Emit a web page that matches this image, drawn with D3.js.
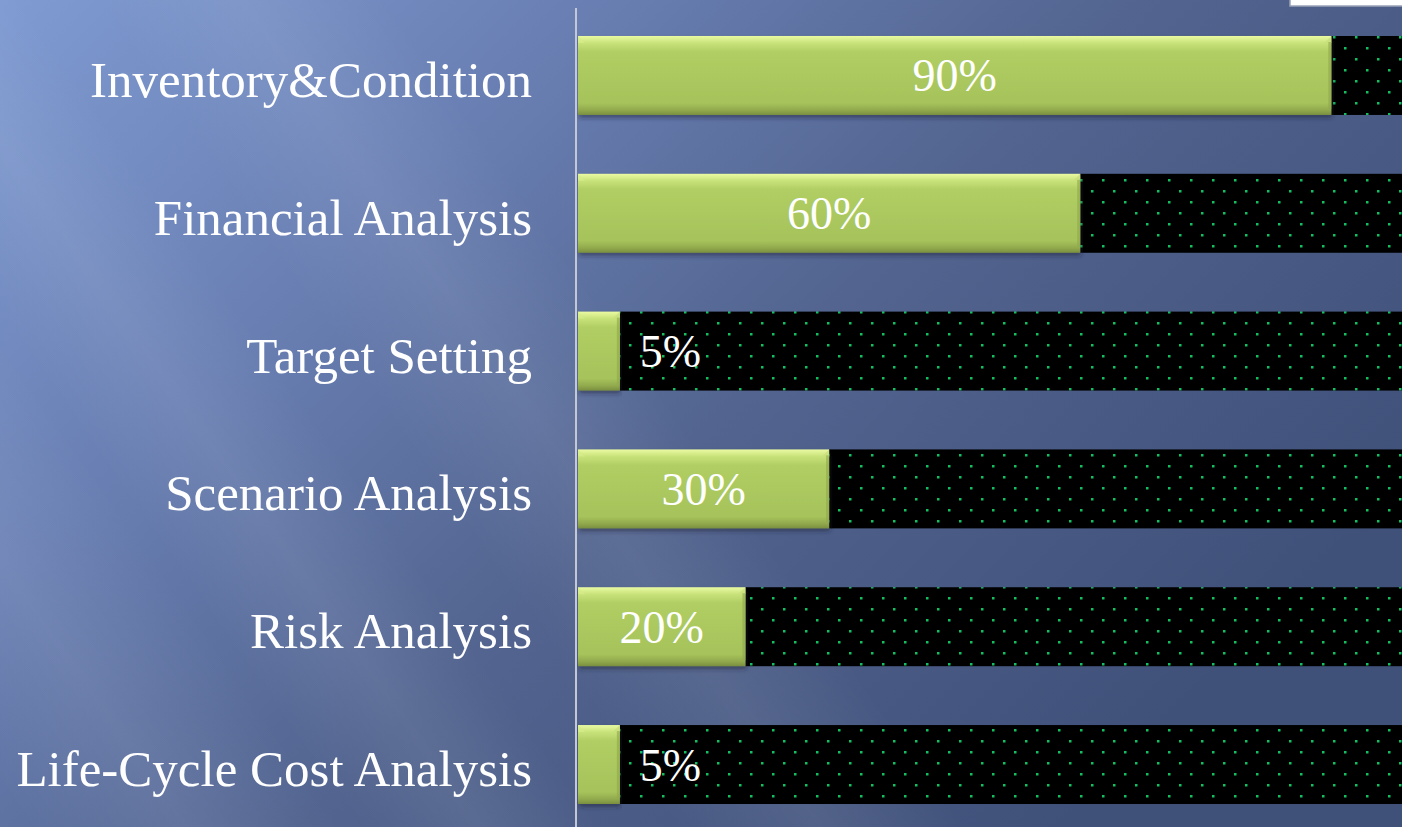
<!DOCTYPE html>
<html>
<head>
<meta charset="utf-8">
<script src="https://cdn.jsdelivr.net/npm/d3@7"></script>
<style>
  html, body { margin: 0; padding: 0; overflow: hidden; background: #4d5f8c; }
  svg { display: block; }
</style>
</head>
<body>
<script>
// chart data
var categories = ["Inventory&Condition", "Financial Analysis", "Target Setting",
                  "Scenario Analysis", "Risk Analysis", "Life-Cycle Cost Analysis"];
var values = [90, 60, 5, 30, 20, 5];
var valueLabels = ["90%", "60%", "5%", "30%", "20%", "5%"];

var width = 1402, height = 827;
var font = "'Liberation Serif', 'DejaVu Serif', serif";

var svg = d3.select('body').append('svg')
    .attr('width', width)
    .attr('height', height);

var defs = svg.append('defs');

// slide background
var bg = defs.append('linearGradient').attr('id', 'bg')
    .attr('x1', '0').attr('y1', '0').attr('x2', '1').attr('y2', '0.6');
bg.append('stop').attr('offset', '0').attr('stop-color', '#7f9bd2');
bg.append('stop').attr('offset', '0.3').attr('stop-color', '#6a80b4');
bg.append('stop').attr('offset', '0.6').attr('stop-color', '#52648f');
bg.append('stop').attr('offset', '1').attr('stop-color', '#3f5079');

var streak = defs.append('linearGradient').attr('id', 'streak')
    .attr('x1', '0').attr('y1', '0').attr('x2', '1').attr('y2', '0');
streak.append('stop').attr('offset', '0').attr('stop-color', '#ffffff').attr('stop-opacity', 0);
streak.append('stop').attr('offset', '0.5').attr('stop-color', '#ffffff').attr('stop-opacity', 0.07);
streak.append('stop').attr('offset', '1').attr('stop-color', '#ffffff').attr('stop-opacity', 0);

// green bar gradient
var barG = defs.append('linearGradient').attr('id', 'barG')
    .attr('x1', '0').attr('y1', '0').attr('x2', '0').attr('y2', '1');
barG.append('stop').attr('offset', '0').attr('stop-color', '#eafaa2');
barG.append('stop').attr('offset', '0.09').attr('stop-color', '#c8e27a');
barG.append('stop').attr('offset', '0.2').attr('stop-color', '#b0ce63');
barG.append('stop').attr('offset', '0.85').attr('stop-color', '#a6c35b');
barG.append('stop').attr('offset', '0.94').attr('stop-color', '#91a94d');
barG.append('stop').attr('offset', '1').attr('stop-color', '#7a8f3f');

// dotted fill for the remainder
var pat = defs.append('pattern').attr('id', 'dots')
    .attr('patternUnits', 'userSpaceOnUse')
    .attr('width', 22).attr('height', 22)
    .attr('x', 2).attr('y', 3);
pat.append('rect').attr('width', 22).attr('height', 22).attr('fill', '#000');
pat.append('rect').attr('x', 0).attr('y', 0).attr('width', 2.5).attr('height', 2.5).attr('fill', '#12c060');
pat.append('rect').attr('x', 11).attr('y', 11).attr('width', 2.5).attr('height', 2.5).attr('fill', '#12c060');

var shadow = defs.append('filter').attr('id', 'shadow')
    .attr('x', '-5%').attr('y', '-10%').attr('width', '110%').attr('height', '130%');
shadow.append('feDropShadow').attr('dx', 1).attr('dy', 3).attr('stdDeviation', 2)
    .attr('flood-color', '#1a2238').attr('flood-opacity', 0.5);

svg.append('rect').attr('width', width).attr('height', height).attr('fill', 'url(#bg)');
svg.append('g').selectAll('rect')
    .data([[-150, 260], [120, 200], [380, 240]])
    .enter().append('rect')
    .attr('x', function (d) { return d[0]; })
    .attr('y', -400)
    .attr('width', function (d) { return d[1]; })
    .attr('height', 1800)
    .attr('fill', 'url(#streak)')
    .attr('transform', 'rotate(-35 400 400)');

// white box cut off at top right
svg.append('rect').attr('x', 1290).attr('y', -10).attr('width', 130).attr('height', 16)
    .attr('fill', '#fff').attr('stroke', '#9aa3b8').attr('stroke-width', 1.5);

var x = d3.scaleLinear().domain([0, 100]).range([578, 1415]);
var y = d3.scaleBand().domain(categories).range([6.5, 833.5])
    .paddingInner(0.427).paddingOuter(0.214);

var rows = categories.map(function (c, i) {
    return { name: c, value: values[i], label: valueLabels[i] };
});

// remaining part up to 100%
svg.append('g').selectAll('rect')
    .data(rows)
    .enter().append('rect')
    .attr('x', function (d) { return x(d.value); })
    .attr('y', function (d) { return y(d.name); })
    .attr('width', function (d) { return x(100) - x(d.value); })
    .attr('height', y.bandwidth())
    .attr('fill', 'url(#dots)');

// green bars
var bars = svg.append('g').selectAll('g')
    .data(rows)
    .enter().append('g');

bars.append('rect')
    .attr('x', x(0))
    .attr('y', function (d) { return y(d.name); })
    .attr('width', function (d) { return x(d.value) - x(0); })
    .attr('height', y.bandwidth())
    .attr('fill', 'url(#barG)')
    .attr('filter', 'url(#shadow)');

// bevel edges
bars.append('path')
    .attr('d', function (d) {
        var x0 = x(0), y0 = y(d.name), b = 7;
        return 'M' + x0 + ',' + y0 + 'L' + (x0 + b) + ',' + (y0 + b) + 'L' + x0 + ',' + (y0 + b) + 'Z';
    })
    .attr('fill', '#d6ec8a').attr('opacity', 0.7);
bars.append('path')
    .attr('d', function (d) {
        var x1 = x(d.value), y0 = y(d.name), b = 7;
        return 'M' + x1 + ',' + y0 + 'L' + x1 + ',' + (y0 + b) + 'L' + (x1 - b) + ',' + (y0 + b) + 'Z';
    })
    .attr('fill', '#c9de7c').attr('opacity', 0.8);
bars.append('rect')
    .attr('x', function (d) { return x(d.value) - 3; })
    .attr('y', function (d) { return y(d.name) + 6; })
    .attr('width', 3)
    .attr('height', y.bandwidth() - 12)
    .attr('fill', '#8fa64b').attr('opacity', 0.6);

// value labels
svg.append('g').selectAll('text')
    .data(rows)
    .enter().append('text')
    .attr('x', function (d) {
        return d.value < 10 ? x(d.value) + 20 : (x(0) + x(d.value)) / 2;
    })
    .attr('y', function (d) { return y(d.name) + y.bandwidth() / 2 + 16; })
    .attr('text-anchor', function (d) { return d.value < 10 ? 'start' : 'middle'; })
    .attr('fill', '#fff')
    .style('font-family', font)
    .style('font-size', '46px')
    .text(function (d) { return d.label; });

// category axis
var axis = svg.append('g')
    .attr('transform', 'translate(576,0)')
    .call(d3.axisLeft(y).tickSize(0).tickPadding(44));
axis.select('.domain').remove();
axis.selectAll('text')
    .attr('fill', '#fff')
    .attr('dy', '0.42em')
    .style('font-family', font)
    .style('font-size', '51px');
svg.append('line')
    .attr('x1', 576).attr('x2', 576)
    .attr('y1', 8).attr('y2', height)
    .attr('stroke', '#c4c8d4').attr('stroke-width', 2);
</script>
</body>
</html>
